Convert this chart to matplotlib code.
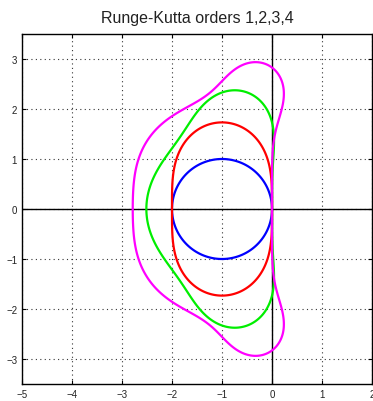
import matplotlib
matplotlib.use("Agg")
import matplotlib.pyplot as plt
import numpy as np

# stability polynomial coefficients R(z) = sum c_k z^k, orders 1..4
coef_1 = [1, 1]
coef_2 = [1, 1, 1/2]
coef_3 = [1, 1, 1/2, 1/6]
coef_4 = [1, 1, 1/2, 1/6, 1/24]
colors = ['blue', 'red', '#00ee00', 'magenta']
xticks = [-5, -4, -3, -2, -1, 0, 1, 2]
yticks = [-3, -2, -1, 0, 1, 2, 3]

plt.rcParams['font.family'] = ['Liberation Sans', 'DejaVu Sans']

fig = plt.figure(figsize=(3.73, 4.02), dpi=100)
ax = fig.add_axes([22/373, 17/402, 350/373, 350/402])

xs = np.linspace(-5, 2, 900)
ys = np.linspace(-3.5, 3.5, 900)
X, Y = np.meshgrid(xs, ys)
Z = X + 1j*Y

ax.grid(True, linestyle=(0, (1, 3)), color='#333333', linewidth=0.8)
ax.axhline(0, color='k', linewidth=1.0)
ax.axvline(0, color='k', linewidth=1.0)

for coef, c in zip([coef_1, coef_2, coef_3, coef_4], colors):
    R = np.polyval(coef[::-1], Z)
    ax.contour(X, Y, np.abs(R), levels=[1.0], colors=c, linewidths=1.6)

ax.set_xlim(-5, 2)
ax.set_ylim(-3.5, 3.5)
ax.set_xticks(xticks)
ax.set_yticks(yticks)
ax.tick_params(direction='in', length=3, labelsize=7, top=True, right=True,
               labelcolor='#222222')
for s in ax.spines.values():
    s.set_linewidth(1.0)
ax.set_title('Runge-Kutta orders 1,2,3,4', fontsize=11.5, pad=9, color='#222222')

fig.savefig('out.png', dpi=100)
